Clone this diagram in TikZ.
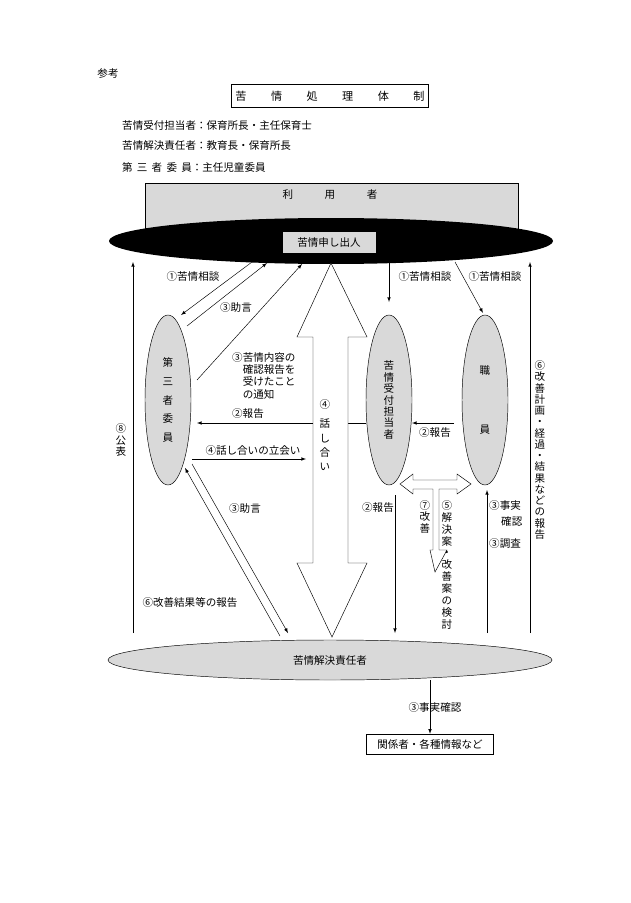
\documentclass[tikz,border=0pt]{standalone}
\usepackage{fontspec}
\setmainfont{Noto Sans CJK JP}
\usetikzlibrary{shapes.geometric}
\tikzset{
  lab/.style={font=\fontsize{9}{10}\selectfont, inner sep=0pt},
  vlab/.style={align=center, font=\fontsize{9}{9.8}\selectfont, inner sep=0pt},
  grayell/.style={draw, ellipse, fill=gray!30, inner sep=0pt},
  arr/.style={-latex, thin},
}
\begin{document}
\begin{tikzpicture}[x=0.03cm, y=-0.03cm]
    \useasboundingbox (0,0) rectangle (630,903);
    % Header
    \node[lab] (ref) at (108,74) {参考};
    \node[draw, thin, minimum width=187*0.03cm, minimum height=23*0.03cm, font=\fontsize{9.5}{11}\selectfont] (title) at (330,96) {苦\hspace{2.2em}情\hspace{2.2em}処\hspace{2.2em}理\hspace{2.2em}体\hspace{2.2em}制};
    \node[lab, anchor=west] (role1) at (122,125) {苦情受付担当者：保育所長・主任保育士};
    \node[lab, anchor=west] (role2) at (122,146) {苦情解決責任者：教育長・保育所長};
    \node[lab, anchor=west] (role3) at (122,167) {第\hspace{0.4em}三\hspace{0.4em}者\hspace{0.4em}委\hspace{0.4em}員：主任児童委員};

    % Users and complainant
    \node[draw, fill=gray!30, minimum width=373*0.03cm, minimum height=48*0.03cm] (user) at (331.5,207) {};
    \node[lab] (usertext) at (330,195) {利\hspace{3em}用\hspace{3em}者};
    \node[ellipse, fill=black, minimum width=444*0.03cm, minimum height=46*0.03cm] (applicant) at (331,241) {};
    \node[fill=gray!30, minimum width=93*0.03cm, minimum height=21*0.03cm, lab] (appbox) at (329,242) {苦情申し出人};

    % Persons
    \node[grayell, minimum width=46*0.03cm, minimum height=170*0.03cm, vlab, font=\fontsize{9}{16}\selectfont] (third) at (168,400) {第\\三\\者\\委\\員};
    \node[grayell, minimum width=46*0.03cm, minimum height=170*0.03cm, vlab] (receiver) at (389,400) {苦\\情\\受\\付\\担\\当\\者};
    \node[grayell, minimum width=46*0.03cm, minimum height=170*0.03cm, vlab] (staff) at (485,400) {職\\[4.5em]員};
    \node[grayell, minimum width=444*0.03cm, minimum height=40*0.03cm, lab] (resolver) at (330,660) {苦情解決責任者};
    \node[draw, minimum width=127*0.03cm, minimum height=20*0.03cm, lab] (others) at (430,744) {関係者・各種情報など};

    % Coordinates on the ellipses
    \coordinate (top8) at (133,262);  \coordinate (bot8) at (133,633);
    \coordinate (top6) at (530,262);  \coordinate (bot6) at (530,633);

    % Long vertical arrows
    \draw[arr] (bot8) -- (top8);
    \node[vlab] (pub) at (121,440) {⑧\\公\\表};
    \draw[arr] (bot6) -- (top6);
    \node[vlab, font=\fontsize{9}{9.6}\selectfont] (report6) at (540,450) {⑥\\改\\善\\計\\画\\・\\経\\過\\・\\結\\果\\な\\ど\\の\\報\\告};

    % Third-party member
    \draw[arr] (252,262) -- (181,315);
    \node[lab] (cons1) at (193,276) {①苦情相談};
    \draw[arr] (187,326) -- (267,263);
    \node[lab] (adv1) at (236,307) {③助言};
    \draw[arr] (197,380) -- (302,264);
    \node[lab, align=left, anchor=north west, font=\fontsize{9}{10.5}\selectfont] (notice) at (232,352) {③苦情内容の\\\phantom{③}確認報告を\\\phantom{③}受けたこと\\\phantom{③}の通知};
    \draw[arr] (receiver.west |- 0,423) -- (197,423);
    \node[lab] (rep1) at (248,414) {②報告};
    \draw[arr] (192,459) -- (306,459);
    \node[lab] (attend) at (253,450) {④話し合いの立会い};
    \draw[arr] (192,464) -- (288,633);
    \node[lab] (adv2) at (245,508) {③助言};
    \draw[arr] (280,636) -- (185,468);
    \node[lab] (rep6) at (190,603) {⑥改善結果等の報告};

    % Big discussion arrow
    \draw[fill=white] (331,263) -- (367,337) -- (348,337) -- (348,563) -- (367,563) -- (332,637)
        -- (297,563) -- (313,563) -- (313,337) -- (297,337) -- cycle;
    \node[vlab, font=\fontsize{9}{12}\selectfont] (talk) at (325,435) {④\\[0.5em]話\\し\\合\\い};

    % Receiver and staff
    \draw[arr] (389,262) -- (389,302);
    \node[lab] (cons2) at (425,276) {①苦情相談};
    \draw[arr] (455,262) -- (483,313);
    \node[lab] (cons3) at (495,276) {①苦情相談};
    \draw[arr] (454,423) -- (412,423);
    \node[lab] (rep2) at (435,433) {②報告};
    \draw[arr] (395,495) -- (395,633);
    \node[lab] (rep3) at (378,508) {②報告};
    \draw[arr] (487,633) -- (487,490);
    \node[lab, anchor=west] (fact1) at (489,505) {③事実};
    \node[lab, anchor=west] (fact2) at (501,521) {確認};
    \node[lab, anchor=west] (survey) at (489,543) {③調査};

    % Improvement arrow
    \draw[fill=white] (400,484) -- (413,474) -- (413,480) -- (457,480) -- (457,474) -- (471,484)
        -- (457,494) -- (457,489) -- (439,489) -- (439,550) -- (447,550) -- (435,572)
        -- (430,550) -- (433,550) -- (433,489) -- (413,489) -- (413,494) -- cycle;
    \node[vlab, anchor=north] (improve) at (425,500) {⑦\\改\\善};
    \node[vlab, anchor=north, font=\fontsize{9}{10.2}\selectfont] (plan) at (447,500) {⑤\\解\\決\\案\\・\\改\\善\\案\\の\\検\\討};

    % Fact finding
    \draw[arr] (resolver.south -| others) -- (others.north);
    \node[lab] (fact3) at (435,707) {③事実確認};
\end{tikzpicture}
\end{document}
